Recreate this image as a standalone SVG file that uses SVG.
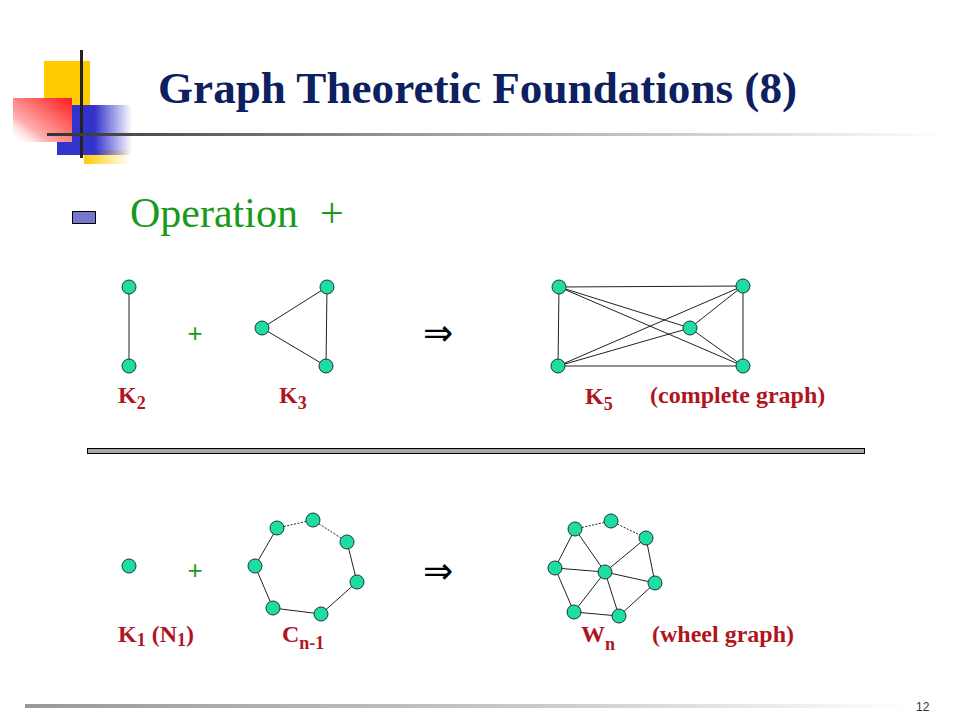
<svg xmlns="http://www.w3.org/2000/svg" width="960" height="720" viewBox="0 0 960 720">
<style>
.n{fill:#1edca4;stroke:#1a3a30;stroke-width:1}
.e{stroke:#222;stroke-width:1;fill:none}
.d{stroke:#222;stroke-width:1;stroke-dasharray:2 1.5;fill:none}
.lbl{font-family:"Liberation Serif",serif;font-weight:bold;font-size:24px;fill:#b0141e}
.sub{font-size:18px}
.plus{font-family:"Liberation Sans",sans-serif;font-size:26px;fill:#1a9a1a}
.arr{font-family:"DejaVu Sans",sans-serif;font-size:36px;fill:#000}
</style>
<defs>
<linearGradient id="hl" x1="0" x2="1" y1="0" y2="0"><stop offset="0" stop-color="#333"/><stop offset="0.4" stop-color="#999"/><stop offset="1" stop-color="#fff"/></linearGradient>
<linearGradient id="fl" x1="0" x2="1" y1="0" y2="0"><stop offset="0" stop-color="#999"/><stop offset="0.6" stop-color="#ccc"/><stop offset="1" stop-color="#fff"/></linearGradient>
<linearGradient id="blue" x1="0" x2="1" y1="0" y2="0"><stop offset="0" stop-color="#3333cc"/><stop offset="0.5" stop-color="#3333cc"/><stop offset="1" stop-color="#3333cc" stop-opacity="0"/></linearGradient>
<linearGradient id="red" x1="1" x2="0" y1="0" y2="1"><stop offset="0" stop-color="#ff1a1a"/><stop offset="0.7" stop-color="#ffb0b0"/><stop offset="1" stop-color="#fff" stop-opacity="0"/></linearGradient>
<linearGradient id="yel" x1="0" x2="1" y1="0" y2="0"><stop offset="0" stop-color="#ffcc00"/><stop offset="1" stop-color="#ffcc00" stop-opacity="0"/></linearGradient>
</defs>
<rect width="960" height="720" fill="#fff"/>
<g id="deco">
<rect x="44" y="61" width="46" height="44" fill="#ffcc00"/>
<rect x="84" y="150" width="46" height="14" fill="url(#yel)"/>
<rect x="57" y="105" width="75" height="50" fill="url(#blue)"/>
<rect x="13" y="98" width="59" height="44" fill="url(#red)"/>
<rect x="80" y="50" width="3" height="108" fill="#222"/>
<rect x="47" y="133" width="900" height="3" fill="url(#hl)"/>
</g>
<text x="158" y="103" font-family="Liberation Serif,serif" font-weight="bold" font-size="44" fill="#0d2060" textLength="639" lengthAdjust="spacingAndGlyphs">Graph Theoretic Foundations (8)</text>
<g id="bullet">
<rect x="72.500" y="211.500" width="23" height="12" fill="#7777cc" stroke="#000"/>
<text x="130" y="227" font-family="Liberation Serif,serif" font-size="42" fill="#1a9a1a">Operation</text>
<text x="320" y="227" font-family="Liberation Serif,serif" font-size="42" fill="#1a9a1a">+</text>
</g>
<g id="connectors">
<line class="e" x1="129" y1="287" x2="129" y2="366"/>
<line class="e" x1="262" y1="328" x2="327" y2="287"/>
<line class="e" x1="262" y1="328" x2="326" y2="366"/>
<line class="e" x1="327" y1="287" x2="326" y2="366"/>
<line class="e" x1="559" y1="287" x2="743" y2="286"/>
<line class="e" x1="559" y1="287" x2="690" y2="328"/>
<line class="e" x1="559" y1="287" x2="558" y2="366"/>
<line class="e" x1="559" y1="287" x2="743" y2="366"/>
<line class="e" x1="743" y1="286" x2="690" y2="328"/>
<line class="e" x1="743" y1="286" x2="558" y2="366"/>
<line class="e" x1="743" y1="286" x2="743" y2="366"/>
<line class="e" x1="690" y1="328" x2="558" y2="366"/>
<line class="e" x1="690" y1="328" x2="743" y2="366"/>
<line class="e" x1="558" y1="366" x2="743" y2="366"/>
<line class="d" x1="277" y1="528" x2="313" y2="520"/>
<line class="d" x1="313" y1="520" x2="347" y2="542"/>
<line class="e" x1="347" y1="542" x2="357" y2="582"/>
<line class="e" x1="357" y1="582" x2="321" y2="614"/>
<line class="e" x1="321" y1="614" x2="273" y2="608"/>
<line class="e" x1="273" y1="608" x2="255" y2="566"/>
<line class="e" x1="255" y1="566" x2="277" y2="528"/>
<line class="d" x1="575" y1="529" x2="611" y2="521"/>
<line class="d" x1="611" y1="521" x2="646" y2="538"/>
<line class="e" x1="646" y1="538" x2="655" y2="583"/>
<line class="e" x1="655" y1="583" x2="619" y2="616"/>
<line class="e" x1="619" y1="616" x2="574" y2="612"/>
<line class="e" x1="574" y1="612" x2="555" y2="568"/>
<line class="e" x1="555" y1="568" x2="575" y2="529"/>
<line class="e" x1="605" y1="572" x2="575" y2="529"/>
<line class="e" x1="605" y1="572" x2="646" y2="538"/>
<line class="e" x1="605" y1="572" x2="655" y2="583"/>
<line class="e" x1="605" y1="572" x2="619" y2="616"/>
<line class="e" x1="605" y1="572" x2="574" y2="612"/>
<line class="e" x1="605" y1="572" x2="555" y2="568"/>
</g>
<g id="k2"><circle class="n" cx="129" cy="287" r="7"/><circle class="n" cx="129" cy="366" r="7"/></g>
<g id="k3"><circle class="n" cx="262" cy="328" r="7"/><circle class="n" cx="327" cy="287" r="7"/><circle class="n" cx="326" cy="366" r="7"/></g>
<g id="k5"><circle class="n" cx="559" cy="287" r="7"/><circle class="n" cx="743" cy="286" r="7"/><circle class="n" cx="690" cy="328" r="7"/><circle class="n" cx="558" cy="366" r="7"/><circle class="n" cx="743" cy="366" r="7"/></g>
<g id="k1"><circle class="n" cx="129" cy="566" r="7"/></g>
<g id="cycle"><circle class="n" cx="277" cy="528" r="7"/><circle class="n" cx="313" cy="520" r="7"/><circle class="n" cx="347" cy="542" r="7"/><circle class="n" cx="357" cy="582" r="7"/><circle class="n" cx="321" cy="614" r="7"/><circle class="n" cx="273" cy="608" r="7"/><circle class="n" cx="255" cy="566" r="7"/></g>
<g id="wheel"><circle class="n" cx="575" cy="529" r="7"/><circle class="n" cx="611" cy="521" r="7"/><circle class="n" cx="646" cy="538" r="7"/><circle class="n" cx="655" cy="583" r="7"/><circle class="n" cx="619" cy="616" r="7"/><circle class="n" cx="574" cy="612" r="7"/><circle class="n" cx="555" cy="568" r="7"/><circle class="n" cx="605" cy="572" r="7"/></g>
<g id="ops">
<text class="plus" x="195" y="342" text-anchor="middle">+</text>
<text class="plus" x="195" y="579" text-anchor="middle">+</text>
<text class="arr" x="438" y="345" text-anchor="middle">⇒</text>
<text class="arr" x="438" y="583" text-anchor="middle">⇒</text>
</g>
<g id="labels">
<text class="lbl" x="118" y="403">K<tspan class="sub" dy="6">2</tspan></text>
<text class="lbl" x="279" y="403">K<tspan class="sub" dy="6">3</tspan></text>
<text class="lbl" x="585" y="404">K<tspan class="sub" dy="6">5</tspan></text>
<text class="lbl" x="650" y="403">(complete graph)</text>
<text class="lbl" x="118" y="642">K<tspan class="sub" dy="4">1</tspan><tspan dy="-4"> (N</tspan><tspan class="sub" dy="4">1</tspan><tspan dy="-4">)</tspan></text>
<text class="lbl" x="282" y="642">C<tspan class="sub" dy="7">n-1</tspan></text>
<text class="lbl" x="581" y="642">W<tspan class="sub" dy="8">n</tspan></text>
<text class="lbl" x="652" y="642">(wheel graph)</text>
</g>
<rect id="divider" x="87.500" y="448.500" width="777" height="5" fill="#a6a6a6" stroke="#000" stroke-width="1"/>
<rect x="25" y="704" width="885" height="4" fill="url(#fl)"/>
<text x="916" y="711" font-family="Liberation Sans,sans-serif" font-size="12" fill="#333">12</text>
</svg>
